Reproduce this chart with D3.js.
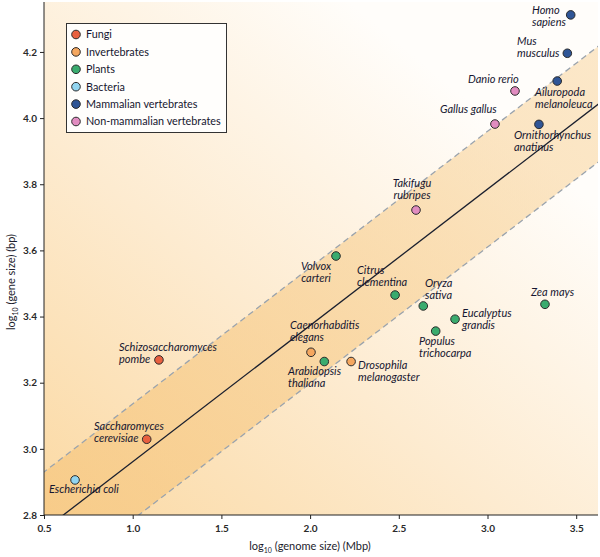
<!DOCTYPE html>
<html>
<head>
<meta charset="utf-8">
<script src="https://cdn.jsdelivr.net/npm/d3@7"></script>
<style>
  html, body { margin: 0; padding: 0; background: #fff; }
  svg { display: block; font-family: Lato, "Open Sans", sans-serif; }
</style>
</head>
<body>
<svg id="chart" width="600" height="557"></svg>
<script>
// ---------- DATA ----------
const groups = ["Fungi", "Invertebrates", "Plants", "Bacteria", "Mammalian vertebrates", "Non-mammalian vertebrates"];
const groupColors = ["#e8603f", "#f5a75f", "#3aab6e", "#92d5f0", "#2f5596", "#e18cc0"];

const species = [
  "Escherichia coli", "Saccharomyces cerevisiae", "Schizosaccharomyces pombe",
  "Caenorhabditis elegans", "Arabidopsis thaliana", "Drosophila melanogaster",
  "Volvox carteri", "Citrus clementina", "Oryza sativa", "Eucalyptus grandis",
  "Populus trichocarpa", "Zea mays", "Takifugu rubripes", "Gallus gallus",
  "Danio rerio", "Ornithorhynchus anatinus", "Ailuropoda melanoleuca",
  "Mus musculus", "Homo sapiens"
];
const speciesGroup = [
  "Bacteria", "Fungi", "Fungi",
  "Invertebrates", "Plants", "Invertebrates",
  "Plants", "Plants", "Plants", "Plants",
  "Plants", "Plants", "Non-mammalian vertebrates", "Non-mammalian vertebrates",
  "Non-mammalian vertebrates", "Mammalian vertebrates", "Mammalian vertebrates",
  "Mammalian vertebrates", "Mammalian vertebrates"
];
const logGenomeSize = [0.675, 1.079, 1.148, 2.005, 2.080, 2.231, 2.146, 2.479, 2.638, 2.817,
                       2.708, 3.324, 2.597, 3.042, 3.155, 3.290, 3.393, 3.450, 3.469];
const logGeneSize   = [2.906, 3.029, 3.269, 3.292, 3.264, 3.264, 3.583, 3.465, 3.432, 3.392,
                       3.356, 3.437, 3.722, 3.982, 4.082, 3.981, 4.112, 4.196, 4.312];

// regression line and band (+/- halfWidth)
const fitSlope = 0.412;
const fitIntercept = 2.549;
const fitHalfWidth = 0.175;

const xTicks = [0.5, 1.0, 1.5, 2.0, 2.5, 3.0, 3.5];
const yTicks = [2.8, 3.0, 3.2, 3.4, 3.6, 3.8, 4.0, 4.2];
const xDomain = [0.5, 3.625];
const yDomain = [2.8, 4.351];

// ---------- LAYOUT (label placement, not data) ----------
const labelLayout = {
  "Escherichia coli": [49, 493, "start"],
  "Saccharomyces cerevisiae": [94, 430, "start"],
  "Schizosaccharomyces pombe": [119, 351, "start"],
  "Caenorhabditis elegans": [290, 329, "start"],
  "Arabidopsis thaliana": [288, 375, "start"],
  "Drosophila melanogaster": [358, 369, "start"],
  "Volvox carteri": [316, 270, "middle"],
  "Citrus clementina": [357, 274, "start"],
  "Oryza sativa": [425, 287, "start"],
  "Eucalyptus grandis": [462, 317, "start"],
  "Populus trichocarpa": [419, 345, "start"],
  "Zea mays": [531, 296, "start"],
  "Takifugu rubripes": [412, 187, "middle"],
  "Gallus gallus": [440, 113, "start"],
  "Danio rerio": [468, 83, "start"],
  "Ornithorhynchus anatinus": [514, 139, "start"],
  "Ailuropoda melanoleuca": [535, 96, "start"],
  "Mus musculus": [517, 45, "start"],
  "Homo sapiens": [532, 14, "start"]
};
const twoLine = new Set(["Saccharomyces cerevisiae","Schizosaccharomyces pombe","Caenorhabditis elegans",
  "Arabidopsis thaliana","Drosophila melanogaster","Volvox carteri","Citrus clementina","Oryza sativa",
  "Eucalyptus grandis","Populus trichocarpa","Takifugu rubripes","Ornithorhynchus anatinus",
  "Ailuropoda melanoleuca","Mus musculus","Homo sapiens"]);

const svg = d3.select("#chart");
const pLeft = 44, pRight = 598, pTop = 2, pBottom = 515;

const x = d3.scaleLinear().domain(xDomain).range([pLeft, pLeft + (xDomain[1]-xDomain[0]) / 0.5 * 88.7]);
const y = d3.scaleLinear().domain(yDomain).range([pBottom, pTop]);
const color = d3.scaleOrdinal().domain(groups).range(groupColors);

const defs = svg.append("defs");
const bg = defs.append("linearGradient").attr("id", "bg").attr("gradientUnits", "userSpaceOnUse")
  .attr("x1", pLeft).attr("y1", pBottom).attr("x2", 420).attr("y2", 60);
bg.append("stop").attr("offset", "0").attr("stop-color", "#fbd9a3");
bg.append("stop").attr("offset", "0.5").attr("stop-color", "#fdebd0");
bg.append("stop").attr("offset", "1").attr("stop-color", "#fffdfa");
const bandG = defs.append("linearGradient").attr("id", "band").attr("gradientUnits", "userSpaceOnUse")
  .attr("x1", pLeft).attr("y1", pBottom).attr("x2", pRight).attr("y2", pTop);
bandG.append("stop").attr("offset", "0").attr("stop-color", "#f6c67e").attr("stop-opacity", 0.7);
bandG.append("stop").attr("offset", "1").attr("stop-color", "#f8cf90").attr("stop-opacity", 0.45);
defs.append("clipPath").attr("id", "plotclip").append("rect")
  .attr("x", pLeft).attr("y", pTop).attr("width", pRight - pLeft).attr("height", pBottom - pTop);

const plot = svg.append("g").attr("clip-path", "url(#plotclip)");
plot.append("rect").attr("x", pLeft).attr("y", pTop).attr("width", pRight - pLeft).attr("height", pBottom - pTop)
  .attr("fill", "url(#bg)");

const fx = v => fitSlope * v + fitIntercept;
const x0 = xDomain[0] - 0.1, x1 = xDomain[1] + 0.1;
const lineGen = d3.line().x(d => x(d[0])).y(d => y(d[1]));
const bandPts = [[x0, fx(x0) + fitHalfWidth], [x1, fx(x1) + fitHalfWidth], [x1, fx(x1) - fitHalfWidth], [x0, fx(x0) - fitHalfWidth]];
plot.append("path").attr("d", lineGen(bandPts) + "Z").attr("fill", "url(#band)");

[-fitHalfWidth, fitHalfWidth].forEach(off => {
  plot.append("path").attr("d", lineGen([[x0, fx(x0) + off], [x1, fx(x1) + off]]))
    .attr("stroke", "#9aa3ad").attr("stroke-width", 1.3).attr("stroke-dasharray", "6,4").attr("fill", "none");
});
plot.append("path").attr("d", lineGen([[x0, fx(x0)], [x1, fx(x1)]]))
  .attr("stroke", "#1a1f2e").attr("stroke-width", 1.3).attr("fill", "none");

// axes
const xAxis = svg.append("g").attr("transform", `translate(0,${pBottom})`)
  .call(d3.axisBottom(x).tickValues(xTicks).tickFormat(d3.format(".1f")).tickSize(4).tickSizeOuter(0));
xAxis.select(".domain").attr("d", `M${pLeft},0H${pRight}`).attr("stroke", "#222");
const yAxis = svg.append("g").attr("transform", `translate(${pLeft},0)`)
  .call(d3.axisLeft(y).tickValues(yTicks).tickFormat(d3.format(".1f")).tickSize(4).tickSizeOuter(0));
yAxis.select(".domain").attr("d", `M0,${pTop}V${pBottom}`).attr("stroke", "#222");
[xAxis, yAxis].forEach(a => {
  a.selectAll("text").attr("font-family", "Lato, sans-serif").attr("font-size", 10).attr("font-weight", 700).attr("fill", "#2a2a2a");
  a.selectAll(".tick line").attr("stroke", "#222");
});
xAxis.selectAll("text").attr("dy", "0.95em");

// axis titles
const xt = svg.append("text").attr("x", 310).attr("y", 550).attr("text-anchor", "middle")
  .attr("font-size", 11).attr("fill", "#1c1c2c");
xt.append("tspan").text("log");
xt.append("tspan").text("10").attr("font-size", 7).attr("dy", 3);
xt.append("tspan").text(" (genome size) (Mbp)").attr("dy", -3);
const yt = svg.append("text").attr("transform", "translate(15,282) rotate(-90)").attr("text-anchor", "middle")
  .attr("font-size", 11).attr("fill", "#1c1c2c");
yt.append("tspan").text("log");
yt.append("tspan").text("10").attr("font-size", 7).attr("dy", 3);
yt.append("tspan").text(" (gene size) (bp)").attr("dy", -3);

// points
const pts = species.map((s, i) => ({ name: s, group: speciesGroup[i], gx: logGenomeSize[i], gy: logGeneSize[i] }));
svg.append("g").selectAll("circle").data(pts).join("circle")
  .attr("cx", d => x(d.gx)).attr("cy", d => y(d.gy)).attr("r", 4.3)
  .attr("fill", d => color(d.group)).attr("stroke", "#2b2b2b").attr("stroke-width", 1);

// labels
const lab = svg.append("g").attr("font-style", "italic").attr("font-size", 11).attr("fill", "#161630");
pts.forEach(d => {
  const [lx, ly, anchor] = labelLayout[d.name];
  const t = lab.append("text").attr("x", lx).attr("y", ly).attr("text-anchor", anchor);
  if (twoLine.has(d.name)) {
    const parts = d.name.split(" ");
    t.append("tspan").attr("x", lx).text(parts[0]);
    t.append("tspan").attr("x", lx).attr("dy", 12).text(parts.slice(1).join(" "));
  } else {
    t.text(d.name);
  }
});

// legend
const lg = svg.append("g");
lg.append("rect").attr("x", 66.5).attr("y", 23.5).attr("width", 160).attr("height", 109)
  .attr("fill", "#fffefc").attr("stroke", "#333").attr("stroke-width", 1);
groups.forEach((g, i) => {
  const cy = 34.5 + i * 17.4;
  lg.append("circle").attr("cx", 76).attr("cy", cy).attr("r", 4.3)
    .attr("fill", color(g)).attr("stroke", "#2b2b2b").attr("stroke-width", 1);
  lg.append("text").attr("x", 86).attr("y", cy + 3.8).attr("font-size", 10.8).attr("fill", "#161630").text(g);
});
</script>
</body>
</html>
